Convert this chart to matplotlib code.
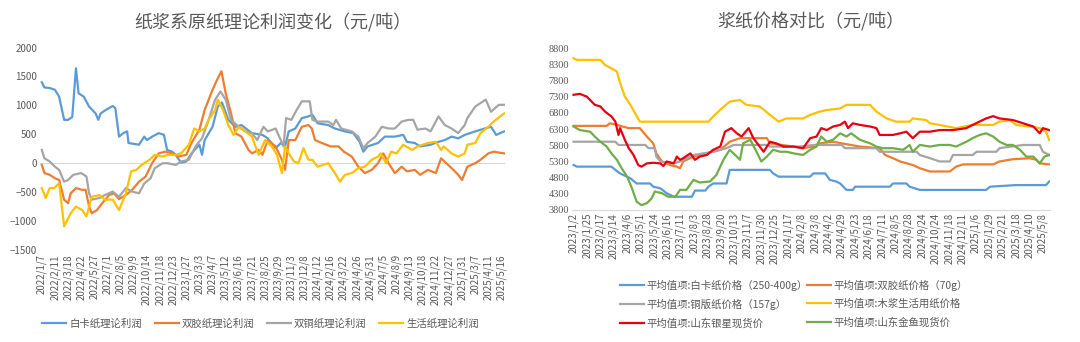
import matplotlib
matplotlib.use("Agg")
import matplotlib.pyplot as plt

plt.rcParams['font.family'] = ['Noto Sans CJK SC', 'DejaVu Sans']

# ---------- left: theoretical profit (weekly index, 0 = 2022/1/7) ----------
left_ticks = ['2022/1/7', '2022/2/11', '2022/3/18', '2022/4/22', '2022/5/27', '2022/7/1',
              '2022/8/5', '2022/9/9', '2022/10/14', '2022/11/18', '2022/12/23', '2023/1/27',
              '2023/3/3', '2023/4/7', '2023/5/12', '2023/6/16', '2023/7/21', '2023/8/25',
              '2023/9/29', '2023/11/3', '2023/12/8', '2024/1/12', '2024/2/16', '2024/3/22',
              '2024/4/26', '2024/5/31', '2024/7/5', '2024/8/9', '2024/9/13', '2024/10/18',
              '2024/11/22', '2024/12/27', '2025/1/31', '2025/3/7', '2025/4/11', '2025/5/16']

bk_weeks = [0, 1, 3, 5, 6.6, 8.5, 10, 11.6, 13, 14, 16, 18, 20.5, 21.5, 22.4, 24.3, 27, 28, 29.4,
            31, 32.5, 33, 37, 39, 40, 42, 44.5, 46.5, 47.7, 49.6, 51, 53, 55, 57, 60, 61, 62, 65,
            67, 68.6, 71, 73.7, 76, 80, 84, 86, 89, 91, 92.6, 94, 96.5, 99, 101.5, 103, 105, 109,
            111.6, 115.4, 118.6, 121, 122.4, 124, 128, 130.6, 134.4, 137.6, 139, 142, 144, 148,
            151, 153.4, 156, 158.5, 161, 165, 168.6, 171, 173, 176]
bk_profit = [1400, 1310, 1300, 1270, 1150, 750, 750, 800, 1640, 1210, 1150, 980, 860, 750, 860,
             920, 990, 950, 460, 520, 550, 350, 320, 460, 400, 460, 520, 490, 230, 200, 145, 10,
             30, 170, 320, 145, 400, 630, 980, 1050, 750, 630, 660, 520, 490, 430, 260, 350, 290,
             550, 600, 780, 810, 840, 690, 660, 600, 550, 520, 370, 200, 290, 350, 460, 460, 490,
             370, 350, 290, 320, 370, 400, 460, 430, 490, 550, 600, 630, 490, 550]

sj_weeks = [0, 1, 3, 5, 6.6, 8.5, 10, 11, 13, 15.4, 16.7, 18, 19, 21, 23, 25.6, 27.5, 29.4, 32,
            34.4, 37, 39.5, 42, 44.5, 47, 49.6, 52, 55, 57, 60, 62, 65, 66.7, 68.4, 70, 72, 73.7,
            76, 78.7, 80, 82.5, 84, 86, 89, 91.4, 92.6, 94, 96.5, 99, 101.5, 102.8, 104, 106.6,
            110, 113, 115, 118, 120.5, 123, 125.6, 128, 130, 132, 134.4, 137, 139, 142, 144, 147,
            150, 152, 154, 156.7, 158.5, 160, 162, 165, 167, 170, 172, 176]
sj_profit = [-30, -170, -200, -260, -290, -630, -690, -520, -430, -460, -460, -750, -865, -810,
             -690, -550, -520, -620, -550, -460, -320, -230, 0, 170, 200, 170, 115, 145, 350, 580,
             920, 1270, 1440, 1590, 1210, 870, 520, 460, 230, 170, 230, 145, 400, 290, 60, -115,
             400, 400, 630, 660, 600, 400, 350, 290, 290, 200, 115, -60, -170, -115, 0, 170, 0,
             -170, -60, -140, -115, -200, -115, -170, 85, 0, -115, -200, -290, -60, 0, 60, 170,
             200, 170]

st_weeks = [0, 1, 3, 5, 6.6, 8.5, 10, 12, 15, 17, 18, 19, 22, 24, 27, 29.4, 32, 34.4, 37, 39,
            41.4, 43, 46, 48, 51, 53, 56, 58.5, 61, 63.5, 66, 68, 70, 72, 75, 77.5, 80, 82, 84.4,
            86, 89, 91, 92, 93, 95, 97, 99, 102, 103, 105, 109, 111, 112, 114, 118, 120.5, 122.4,
            124, 127, 129.4, 132, 134.4, 137, 139.5, 141.4, 143, 146, 148, 151, 153.4, 156, 158.5,
            161, 162, 165, 167, 169, 171, 174, 176]
st_profit = [230, 85, 30, -60, -115, -320, -290, -200, -170, -230, -520, -630, -600, -550, -490,
             -580, -430, -490, -520, -350, -260, -85, 0, 0, -30, 30, 60, 290, 430, 750, 1100, 1240,
             1100, 750, 630, 550, 520, 400, 630, 550, 600, 400, 290, 780, 750, 920, 1070, 1070,
             750, 720, 720, 660, 750, 600, 550, 460, 260, 350, 460, 630, 600, 600, 720, 750, 750,
             580, 600, 550, 810, 660, 600, 520, 660, 780, 980, 1040, 1100, 890, 1010, 1010]

sh_weeks = [0, 1.5, 3, 4.7, 6.6, 8.5, 11, 13, 15.4, 17, 19, 22, 24, 27, 29.4, 32, 34, 36, 38, 41,
            43, 46, 48, 51, 53, 56, 58, 60, 62, 63.5, 66, 67, 69, 71, 73, 75, 77.5, 80, 82.5, 85,
            87.6, 89.5, 91.4, 92.6, 94, 96, 97.7, 99.6, 101.5, 103, 105, 109, 111.6, 113.5, 115.4,
            118, 120.5, 123, 125.6, 128, 129, 131, 133, 135, 137.6, 141, 143, 147, 150, 152, 153,
            156, 158.5, 161, 162, 165, 167, 170, 172, 176]
sh_profit = [-430, -600, -430, -430, -350, -1090, -865, -750, -810, -920, -580, -550, -630, -630,
             -810, -520, -140, -115, -30, 60, 145, 115, 145, 145, 170, 320, 600, 550, 600, 750,
             920, 1100, 920, 660, 490, 630, 550, 460, 145, 400, 290, 145, -170, 290, 170, 30, 0,
             260, 60, 60, -60, 0, -170, -320, -200, -170, -85, -60, 60, 115, 170, 0, 200, 170, 320,
             230, 290, 350, 370, 230, 290, 170, 115, 170, 320, 350, 520, 630, 720, 860]

# ---------- right: price comparison (trading-day index, 0 = 2023/1/2) ----------
right_ticks = ['2023/1/2', '2023/1/25', '2023/2/17', '2023/3/14', '2023/4/6', '2023/5/1',
               '2023/5/24', '2023/6/16', '2023/7/11', '2023/8/3', '2023/8/28', '2023/9/20',
               '2023/10/13', '2023/11/7', '2023/11/30', '2023/12/25', '2024/1/17', '2024/2/8',
               '2024/3/8', '2024/4/2', '2024/4/29', '2024/5/23', '2024/6/18', '2024/7/11',
               '2024/8/5', '2024/8/28', '2024/9/24', '2024/10/24', '2024/11/18', '2024/12/11',
               '2025/1/6', '2025/1/29', '2025/2/21', '2025/3/18', '2025/4/10', '2025/5/8']

bk_days = [0, 4, 48, 53, 59, 72, 80, 97, 101, 110, 118, 127, 150, 154, 167, 171, 177, 194, 198,
           249, 253, 260, 300, 304, 319, 325, 333, 338, 346, 354, 357, 401, 405, 422, 426, 439,
           523, 528, 561, 599, 603]
bk_price = [5190, 5140, 5140, 5040, 4930, 4780, 4620, 4620, 4520, 4470, 4320, 4210, 4210, 4400,
            4400, 4520, 4620, 4620, 5040, 5040, 4930, 4830, 4830, 4930, 4930, 4730, 4680, 4620,
            4420, 4420, 4520, 4520, 4620, 4620, 4520, 4420, 4420, 4520, 4570, 4570, 4680]

sj_days = [0, 42, 46, 55, 59, 70, 84, 93, 101, 105, 112, 122, 131, 135, 139, 152, 169, 186, 198,
           211, 245, 249, 279, 291, 304, 312, 329, 340, 363, 388, 395, 405, 414, 430, 439, 452,
           477, 485, 494, 532, 540, 557, 578, 587, 591, 603]
sj_price = [6400, 6400, 6480, 6430, 6400, 6330, 6330, 6070, 5860, 5550, 5300, 5190, 5140, 5090,
            5300, 5450, 5550, 5660, 5910, 6020, 6020, 5860, 5760, 5710, 5760, 5860, 5910, 5860,
            5760, 5710, 5500, 5400, 5300, 5190, 5090, 4990, 4990, 5140, 5210, 5210, 5300, 5370,
            5400, 5350, 5240, 5210]

tb_days = [0, 53, 57, 91, 95, 103, 105, 110, 127, 135, 152, 177, 194, 203, 245, 249, 287, 304,
           340, 344, 384, 388, 435, 439, 452, 464, 477, 481, 506, 511, 536, 540, 570, 591, 595,
           603]
tb_price = [5910, 5910, 5810, 5810, 5710, 5710, 5450, 5300, 5240, 5300, 5500, 5600, 5710, 5810,
            5810, 5760, 5760, 5810, 5810, 5710, 5710, 5600, 5600, 5500, 5400, 5300, 5300, 5500,
            5500, 5600, 5600, 5710, 5810, 5810, 5600, 5500]

mj_days = [0, 4, 34, 40, 48, 55, 59, 65, 72, 78, 84, 127, 171, 177, 188, 198, 211, 219, 236, 249,
           260, 270, 291, 300, 312, 321, 338, 346, 376, 384, 397, 409, 426, 430, 447, 452, 464,
           485, 506, 532, 540, 553, 561, 578, 591, 599, 603]
mj_price = [8490, 8440, 8440, 8280, 8180, 8080, 7720, 7310, 7050, 6790, 6530, 6530, 6530, 6690,
            6940, 7150, 7200, 7050, 7000, 6740, 6530, 6630, 6630, 6740, 6840, 6890, 6940, 7050,
            7050, 6840, 6630, 6530, 6530, 6630, 6580, 6480, 6430, 6330, 6430, 6430, 6530, 6580,
            6430, 6380, 6330, 6220, 5960]

yx_days = [0, 8, 17, 21, 27, 34, 40, 48, 53, 57, 59, 65, 70, 76, 82, 86, 93, 101, 110, 114, 118,
           127, 131, 135, 139, 148, 154, 160, 169, 177, 186, 192, 200, 207, 213, 222, 228, 236,
           241, 249, 257, 266, 279, 291, 300, 308, 314, 321, 329, 338, 344, 348, 354, 363, 376,
           384, 388, 405, 414, 422, 430, 439, 452, 464, 481, 498, 506, 523, 532, 540, 557, 570,
           583, 591, 595, 603]
yx_price = [7360, 7390, 7300, 7200, 7050, 7000, 6840, 6690, 6530, 6120, 6330, 5970, 5710, 5500,
            5190, 5140, 5240, 5260, 5240, 5160, 5300, 5240, 5450, 5350, 5400, 5550, 5350, 5450,
            5500, 5660, 5760, 6220, 6330, 6170, 6070, 6330, 6020, 5760, 5600, 5910, 5860, 5760,
            5760, 5710, 6020, 6070, 6330, 6270, 6380, 6430, 6530, 6330, 6480, 6430, 6380, 6330,
            6120, 6120, 6170, 6220, 6020, 6220, 6220, 6270, 6270, 6330, 6430, 6630, 6700, 6630,
            6580, 6480, 6380, 6170, 6330, 6270]

jy_days = [0, 8, 21, 27, 34, 42, 48, 55, 61, 68, 74, 80, 86, 93, 99, 103, 112, 120, 129, 135,
           143, 152, 160, 173, 181, 190, 198, 207, 211, 215, 224, 232, 238, 245, 253, 262, 270,
           279, 291, 300, 308, 314, 321, 329, 338, 346, 352, 363, 376, 384, 392, 405, 418, 426,
           430, 439, 452, 464, 477, 485, 498, 506, 515, 523, 532, 540, 549, 557, 566, 574, 583,
           591, 597, 603]
jy_price = [6380, 6270, 6220, 6070, 5910, 5760, 5550, 5350, 5090, 4830, 4470, 4060, 3950, 4010,
            4160, 4370, 4320, 4210, 4210, 4420, 4420, 4730, 4650, 4680, 4880, 5350, 5660, 5450,
            5350, 5860, 5970, 5600, 5300, 5450, 5660, 5600, 5600, 5550, 5500, 5660, 5760, 6070,
            5910, 5970, 6170, 6070, 6170, 5970, 5860, 5760, 5710, 5710, 5660, 5810, 5600, 5810,
            5760, 5810, 5810, 5760, 5910, 6020, 6120, 6170, 6070, 5910, 5810, 5810, 5660, 5450,
            5450, 5240, 5450, 5500]

txt = '#595959'
fig = plt.figure(figsize=(10.8, 3.42), dpi=100)

# left chart
ax1 = fig.add_axes([0.037, 0.269, 0.431, 0.592])
ax1.plot(bk_weeks, bk_profit, color='#5B9BD5', lw=1.6, label='白卡纸理论利润')
ax1.plot(sj_weeks, sj_profit, color='#ED7D31', lw=1.6, label='双胶纸理论利润')
ax1.plot(st_weeks, st_profit, color='#A5A5A5', lw=1.6, label='双铜纸理论利润')
ax1.plot(sh_weeks, sh_profit, color='#FFC000', lw=1.6, label='生活纸理论利润')
ax1.axhline(0, color='#D9D9D9', lw=0.8, zorder=0)
ax1.set_ylim(-1500, 2000)
ax1.set_yticks(range(-1500, 2001, 500))
ax1.set_xlim(-0.7, 176.5)
ax1.set_xticks(range(0, 176, 5))
ax1.set_xticklabels(left_ticks, rotation=90)
for s in ax1.spines.values():
    s.set_visible(False)
ax1.tick_params(axis='both', length=0, labelsize=7, colors=txt, pad=2)
ax1.tick_params(axis='x', pad=3)
ax1.text(0.5, 1.0 + 26 / 202.5, '纸浆系原纸理论利润变化（元/吨）', transform=ax1.transAxes,
         ha='center', va='center', fontsize=13, color=txt)
ax1.legend(loc='center', bbox_to_anchor=(0.474, -0.365), ncol=4, frameon=False,
           fontsize=7.5, labelcolor=txt, handlelength=2.3, handletextpad=0.3, columnspacing=1.2)

# right chart
ax2 = fig.add_axes([0.5296, 0.386, 0.4426, 0.473])
l_bk, = ax2.plot(bk_days, bk_price, color='#5B9BD5', lw=1.6, label='平均值项:白卡纸价格（250-400g）')
l_sj, = ax2.plot(sj_days, sj_price, color='#ED7D31', lw=1.6, label='平均值项:双胶纸价格（70g）')
l_tb, = ax2.plot(tb_days, tb_price, color='#A5A5A5', lw=1.6, label='平均值项:铜版纸价格（157g）')
l_mj, = ax2.plot(mj_days, mj_price, color='#FFC000', lw=1.6, label='平均值项:木浆生活用纸价格')
l_yx, = ax2.plot(yx_days, yx_price, color='#E60012', lw=1.6, label='平均值项:山东银星现货价')
l_jy, = ax2.plot(jy_days, jy_price, color='#70AD47', lw=1.6, label='平均值项:山东金鱼现货价')
ax2.set_ylim(3800, 8800)
ax2.set_yticks(range(3800, 8801, 500))
ax2.set_xlim(-2, 604)
ax2.set_xticks(range(0, 596, 17))
ax2.set_xticklabels(right_ticks, rotation=90)
for lab in ax2.get_yticklabels():
    lab.set_family(['Liberation Serif', 'DejaVu Serif'])
    lab.set_fontsize(7.5)
for k, s in ax2.spines.items():
    s.set_visible(k == 'bottom')
ax2.spines['bottom'].set_color('#D9D9D9')
ax2.tick_params(axis='x', length=0, labelsize=7, colors=txt, pad=2)
ax2.tick_params(axis='y', length=0, colors=txt, pad=2)
ax2.text(0.5, 1.0 + 26 / 161.7, '浆纸价格对比（元/吨）', transform=ax2.transAxes,
         ha='center', va='center', fontsize=13, color=txt)
handles = [l_bk, l_tb, l_yx, l_sj, l_mj, l_jy]
ax2.legend(handles=handles, labels=[h.get_label() for h in handles],
           loc='upper left', bbox_to_anchor=(0.09, -0.4), ncol=2, frameon=False,
           fontsize=7.5, labelcolor=txt, handlelength=2.3, handletextpad=0.2,
           columnspacing=0.0, labelspacing=0.75, borderpad=0)

fig.savefig('out.png', dpi=100)
